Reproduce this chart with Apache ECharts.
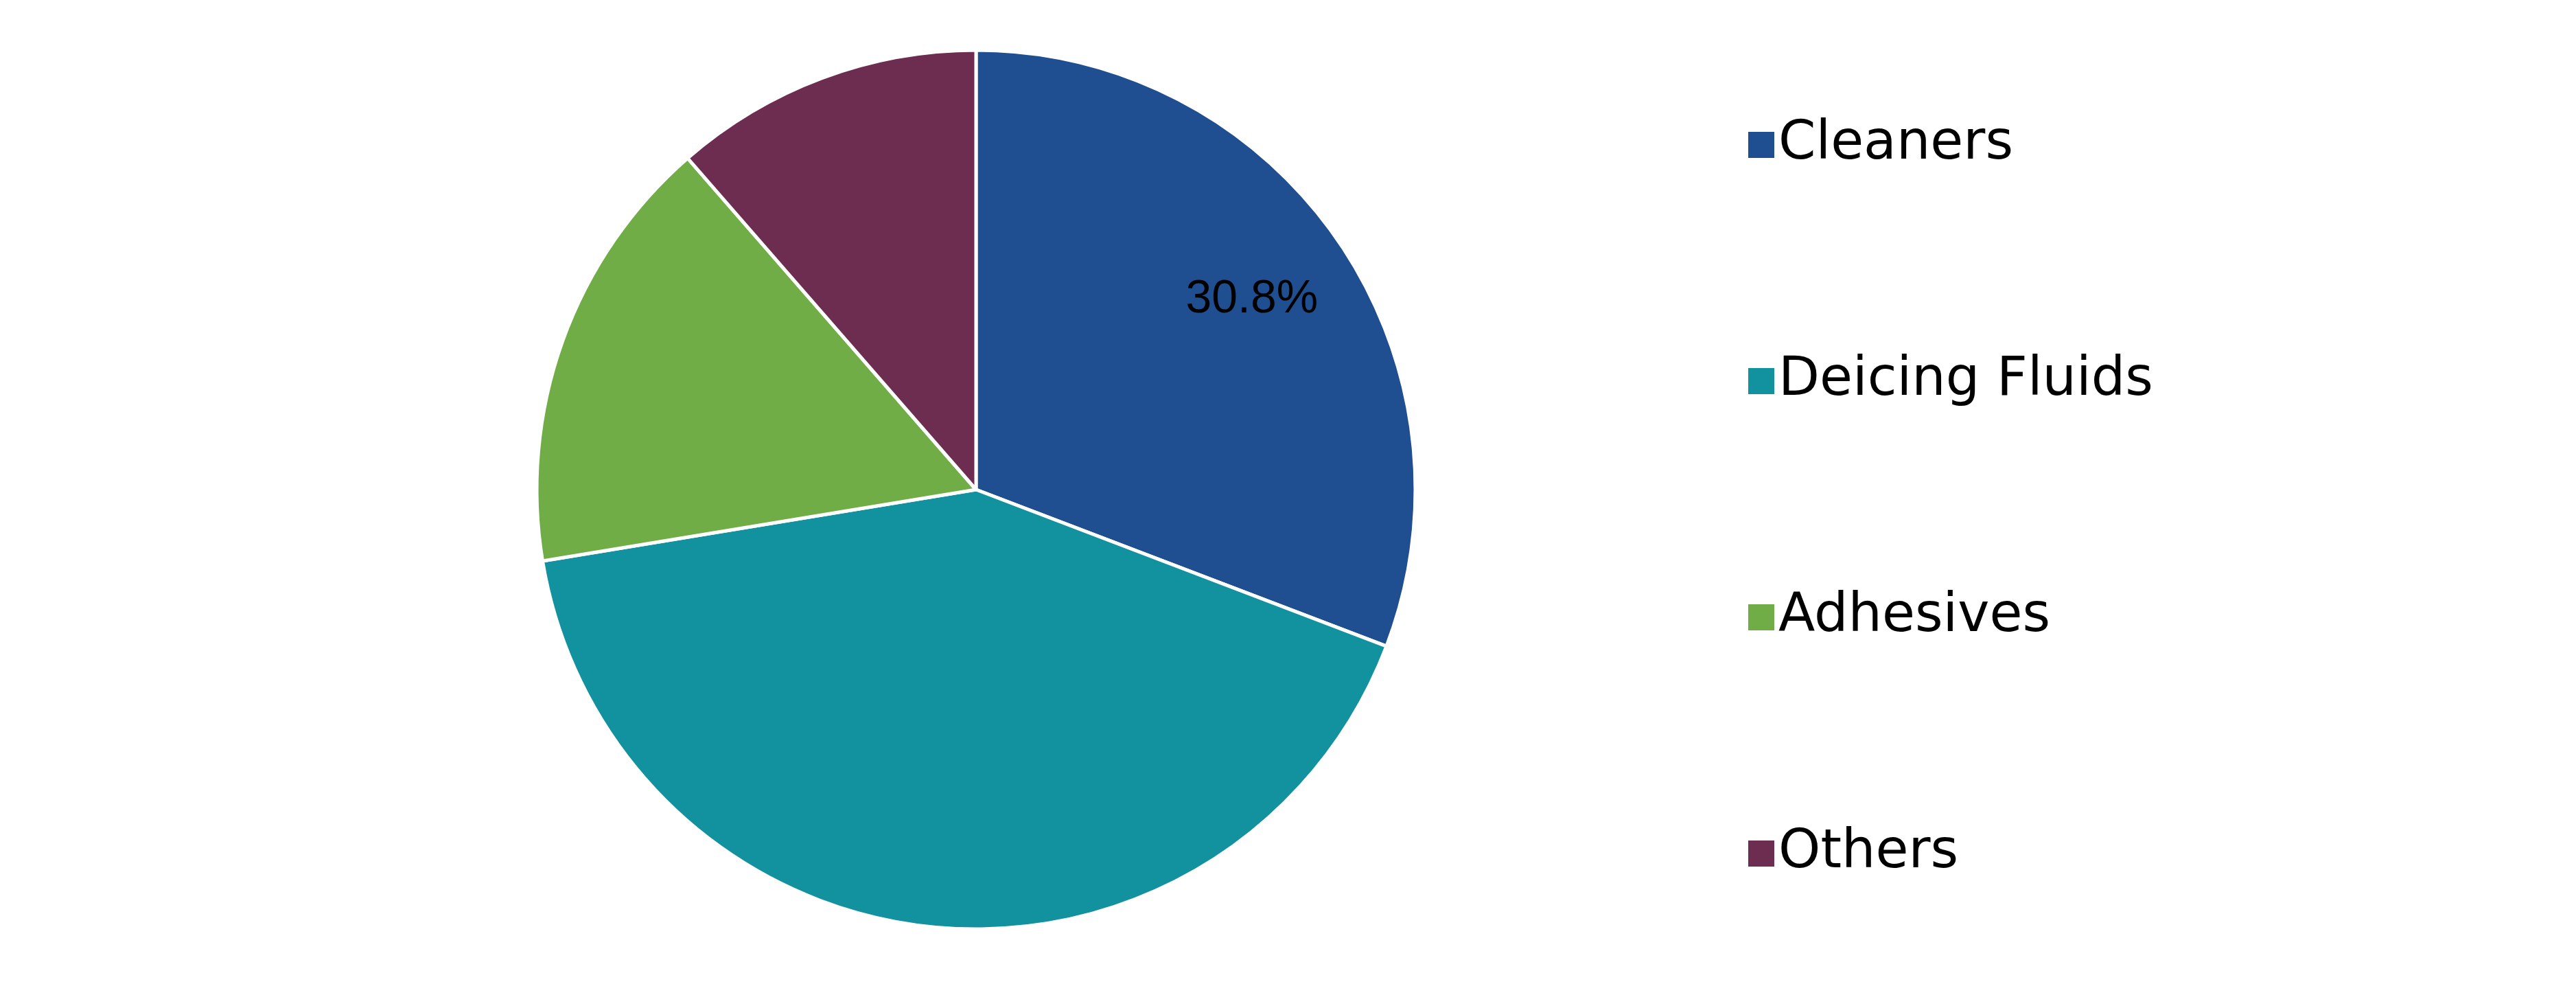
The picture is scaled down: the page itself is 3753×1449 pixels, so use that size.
<!DOCTYPE html>
<html>
<head>
<meta charset="utf-8">
<script src="https://cdn.jsdelivr.net/npm/echarts@6/dist/echarts.min.js"></script>
<style>
    html, body { margin: 0; padding: 0; background: #fff; }
    #chart { width: 3753px; height: 1449px; }
</style>
</head>
<body>
<div id="chart"></div>
<script>
// 数据
const categories = ['Cleaners', 'Deicing Fluids', 'Adhesives', 'Others'];
const shares = [30.8, 41.6, 16.2, 11.4];
const colors = ['#1F4E91', '#12919E', '#70AD47', '#6C2D50'];

const chart = echarts.init(document.getElementById('chart'));

const pieData = categories.map((name, i) => ({
    name: name,
    value: shares[i],
    itemStyle: { color: colors[i] }
}));

// 只给第一块显示标签（透明覆盖层，用于控制标签位置）
const labelData = categories.map((name, i) => ({
    name: name,
    value: shares[i],
    label: { show: i === 0 }
}));

const option = {
    animation: false,
    legend: {
        orient: 'vertical',
        left: 2540,
        top: 156,
        itemGap: 244,
        itemWidth: 40,
        itemHeight: 40,
        icon: 'rect',
        textStyle: {
            fontFamily: 'DejaVu Sans',
            fontSize: 78,
            lineHeight: 100,
            color: '#000'
        },
        data: categories
    },
    series: [
        {
            type: 'pie',
            center: [1422, 713],
            radius: 640,
            startAngle: 90,
            clockwise: true,
            data: pieData,
            label: { show: false },
            labelLine: { show: false },
            itemStyle: { borderColor: '#fff', borderWidth: 5 }
        },
        {
            type: 'pie',
            center: [1422, 713],
            radius: [330, 640],
            startAngle: 90,
            clockwise: true,
            silent: true,
            legendHoverLink: false,
            data: labelData,
            itemStyle: { color: 'rgba(0,0,0,0)' },
            labelLine: { show: false },
            label: {
                position: 'inside',
                formatter: '{c}%',
                fontFamily: 'Liberation Sans',
                fontSize: 68,
                color: '#000'
            }
        }
    ]
};

chart.setOption(option);
</script>
</body>
</html>
